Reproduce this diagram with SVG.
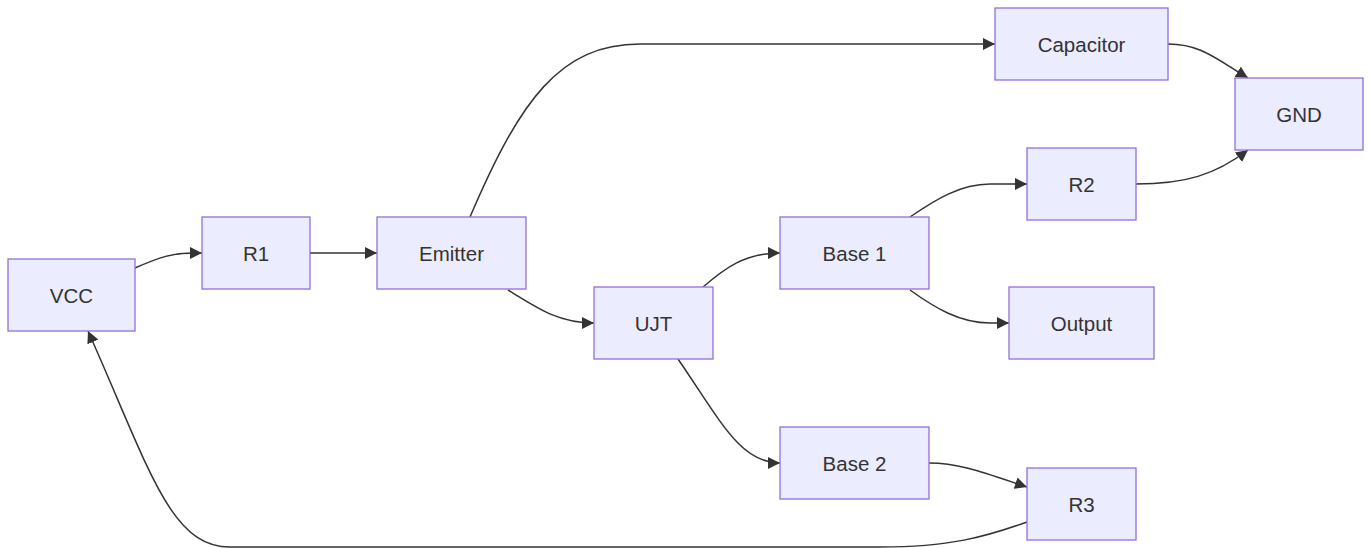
<svg xmlns="http://www.w3.org/2000/svg" width="1369" height="548" viewBox="0 0 1369 548">
<style>
.node rect{fill:#ECECFF;stroke:#9370DB;stroke-width:1.3}
.node text{font-family:"Liberation Sans",Arial,sans-serif;font-size:20.5px;fill:#333;text-anchor:middle;dominant-baseline:central}
.edges path{fill:none;stroke:#333;stroke-width:1.5;marker-end:url(#arr)}
</style>
<defs>
<marker id="arr" viewBox="0 0 10 10" refX="10" refY="5" markerUnits="userSpaceOnUse" markerWidth="12" markerHeight="12" orient="auto">
<path d="M0,0 L10,5 L0,10 z" fill="#333"/>
</marker>
</defs>
<rect width="1369" height="548" fill="#fff"/>
<g class="edges">
<path d="M135,268 C160,257 172,253 195,253 L202,253"/>
<path d="M310,253 L377,253"/>
<path d="M470,217 C520,100 560,44 640,44 L995,44"/>
<path d="M508,290 C540,310 560,323 594,323"/>
<path d="M703,287 C725,268 745,253 780,253"/>
<path d="M678,359 C720,420 740,463 780,463"/>
<path d="M910,217 C935,200 960,184 990,184 L1027,184"/>
<path d="M910,290 C935,308 960,323 990,323 L1009,323"/>
<path d="M1168,44 C1200,44 1215,58 1248,78"/>
<path d="M1136,184 C1185,184 1215,175 1248,150"/>
<path d="M929,463 C960,463 985,473 1027,487"/>
<path d="M1027,522 C985,537 950,547 880,547 L230,547 C170,547 150,470 88,331"/>
</g>
<g id="VCC" class="node"><rect x="8" y="259" width="127" height="72"/><text x="71.5" y="295">VCC</text></g>
<g id="R1" class="node"><rect x="202" y="217" width="108" height="72"/><text x="256" y="253">R1</text></g>
<g id="Emitter" class="node"><rect x="377" y="217" width="149" height="72"/><text x="451.5" y="253">Emitter</text></g>
<g id="UJT" class="node"><rect x="594" y="287" width="119" height="72"/><text x="653.5" y="323">UJT</text></g>
<g id="Base1" class="node"><rect x="780" y="217" width="149" height="72"/><text x="854.5" y="253">Base 1</text></g>
<g id="Base2" class="node"><rect x="780" y="427" width="149" height="72"/><text x="854.5" y="463">Base 2</text></g>
<g id="Capacitor" class="node"><rect x="995" y="8" width="173" height="72"/><text x="1081.5" y="44">Capacitor</text></g>
<g id="GND" class="node"><rect x="1235" y="78" width="128" height="72"/><text x="1299" y="114">GND</text></g>
<g id="R2" class="node"><rect x="1027" y="148" width="109" height="72"/><text x="1081.5" y="184">R2</text></g>
<g id="Output" class="node"><rect x="1009" y="287" width="145" height="72"/><text x="1081.5" y="323">Output</text></g>
<g id="R3" class="node"><rect x="1027" y="468" width="109" height="72"/><text x="1081.5" y="504">R3</text></g>
</svg>
